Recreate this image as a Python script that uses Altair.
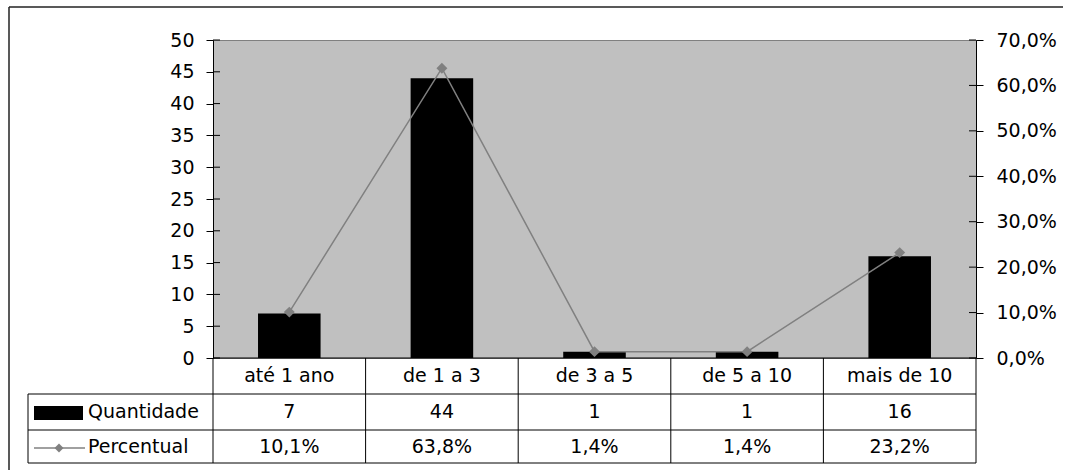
import altair as alt
import pandas as pd

# ---- data ----
categories = ["até 1 ano", "de 1 a 3", "de 3 a 5", "de 5 a 10", "mais de 10"]
quantidade = [7, 44, 1, 1, 16]
percentual = [0.101, 0.638, 0.014, 0.014, 0.232]
series_names = ["Quantidade", "Percentual"]
left_ticks = [0, 5, 10, 15, 20, 25, 30, 35, 40, 45, 50]
right_ticks = [0.0, 0.1, 0.2, 0.3, 0.4, 0.5, 0.6, 0.7]

W, H = 763, 318
TOTAL_W, TOTAL_H = 1075, 470
FONT = "DejaVu Sans"
FS = 19
GRAY = "#808080"

df = pd.DataFrame({"cat": categories, "qtd": quantidade, "pct": percentual})
one = pd.DataFrame({"k": [0]})
lt = pd.DataFrame({"qtd": left_ticks})
rt = pd.DataFrame({"pct": right_ticks})

xscale = alt.Scale(type="band", domain=categories, paddingInner=0, paddingOuter=0)
xenc = alt.X("cat:N", scale=xscale, axis=None)

yl_scale = alt.Scale(domain=[0, 50], nice=False, zero=True)
yr_scale = alt.Scale(domain=[0, 0.7], nice=False, zero=True)

left_axis = alt.Axis(orient="left", values=left_ticks, tickSize=7, labelPadding=12,
                     grid=False, domainColor="black", tickColor="black",
                     labelFont=FONT, labelFontSize=FS, labelColor="black", title=None)
right_axis = alt.Axis(orient="right", values=right_ticks, tickSize=7, labelPadding=13,
                      grid=False, domainColor="black", tickColor="black",
                      labelFont=FONT, labelFontSize=FS, labelColor="black", title=None,
                      labelExpr="replace(format(datum.value, '.1%'), '.', ',')")

yl = alt.Y("qtd:Q", scale=yl_scale, axis=left_axis)
yr = alt.Y("pct:Q", scale=yr_scale, axis=right_axis)

# ---- left (quantity) group ----
bars = alt.Chart(df).mark_bar(color="black", width=alt.RelativeBandSize(0.41)).encode(
    x=xenc, y=yl
)
left_inner = alt.Chart(lt).mark_rule(color="black").encode(
    y=yl, x=alt.value(0), x2=alt.value(7)
)

# table texts
txt = dict(font=FONT, fontSize=FS, color="black", baseline="middle", align="center")
head = alt.Chart(df).mark_text(**txt).encode(x=xenc, y=alt.value(336), text="cat:N")
qrow = alt.Chart(df).mark_text(**txt).encode(x=xenc, y=alt.value(372), text="qtd:Q")
prow = alt.Chart(df).transform_calculate(
    lab="replace(format(datum.pct, '.1%'), '.', ',')"
).mark_text(**txt).encode(x=xenc, y=alt.value(406.5), text="lab:N")

# table grid
colrules = alt.Chart(df).mark_rule(color="black").encode(
    x=alt.X("cat:N", scale=xscale, axis=None, bandPosition=0),
    y=alt.value(H), y2=alt.value(423)
)

def hline(y, x1, x2, color="black", sw=1):
    return alt.Chart(one).mark_rule(color=color, strokeWidth=sw).encode(
        x=alt.value(x1), x2=alt.value(x2), y=alt.value(y))

def vline(x, y1, y2, color="black", sw=1):
    return alt.Chart(one).mark_rule(color=color, strokeWidth=sw).encode(
        x=alt.value(x), y=alt.value(y1), y2=alt.value(y2))

grid = [
    hline(H, 0, W), hline(354, -185, W), hline(390, -185, W), hline(423, -185, W),
    vline(W, H, 423), vline(-185, 354, 423),
    # outer frame (right and bottom edges lie outside the picture)
    hline(-33, -204, TOTAL_W - 213 - 12, "#222", 1.5), vline(-204, -33, TOTAL_H - 40, "#222", 1.5),
]

# legend cells
sdf = pd.DataFrame({"name": series_names, "yy": [372, 406.5]})
leg_text = alt.Chart(sdf).mark_text(font=FONT, fontSize=FS, color="black",
                                    baseline="middle", align="left").encode(
    x=alt.value(-125), y=alt.Y("yy:Q", scale=None), text="name:N")
leg_rect = alt.Chart(one).mark_rect(color="black").encode(
    x=alt.value(-179), x2=alt.value(-130), y=alt.value(366), y2=alt.value(380))
leg_line = hline(408, -179, -128, GRAY, 1.5)
leg_pt = alt.Chart(one).mark_point(shape="diamond", filled=True, size=80, color=GRAY,
                                   opacity=1).encode(x=alt.value(-154), y=alt.value(408))

left_group = alt.layer(bars, left_inner, head, qrow, prow, colrules, *grid,
                       leg_text, leg_rect, leg_line, leg_pt)

# ---- right (percent) group ----
line = alt.Chart(df).mark_line(color=GRAY, strokeWidth=1.5).encode(x=xenc, y=yr)
pts = alt.Chart(df).mark_point(shape="diamond", filled=True, size=120, color=GRAY,
                               opacity=1).encode(x=xenc, y=yr)
right_inner = alt.Chart(rt).mark_rule(color="black").encode(
    y=yr, x=alt.value(W - 7), x2=alt.value(W)
)
right_group = alt.layer(line, pts, right_inner)

chart = alt.layer(left_group, right_group).resolve_scale(y="independent").properties(
    width=W, height=H,
    autosize="none",
    padding={"left": 213, "top": 40, "right": TOTAL_W - 213 - W, "bottom": TOTAL_H - 40 - H},
    background="white",
).configure_view(fill="#C0C0C0", stroke=GRAY, strokeWidth=1)

chart.save("out.html", embed_options={"renderer": "svg", "actions": False})
